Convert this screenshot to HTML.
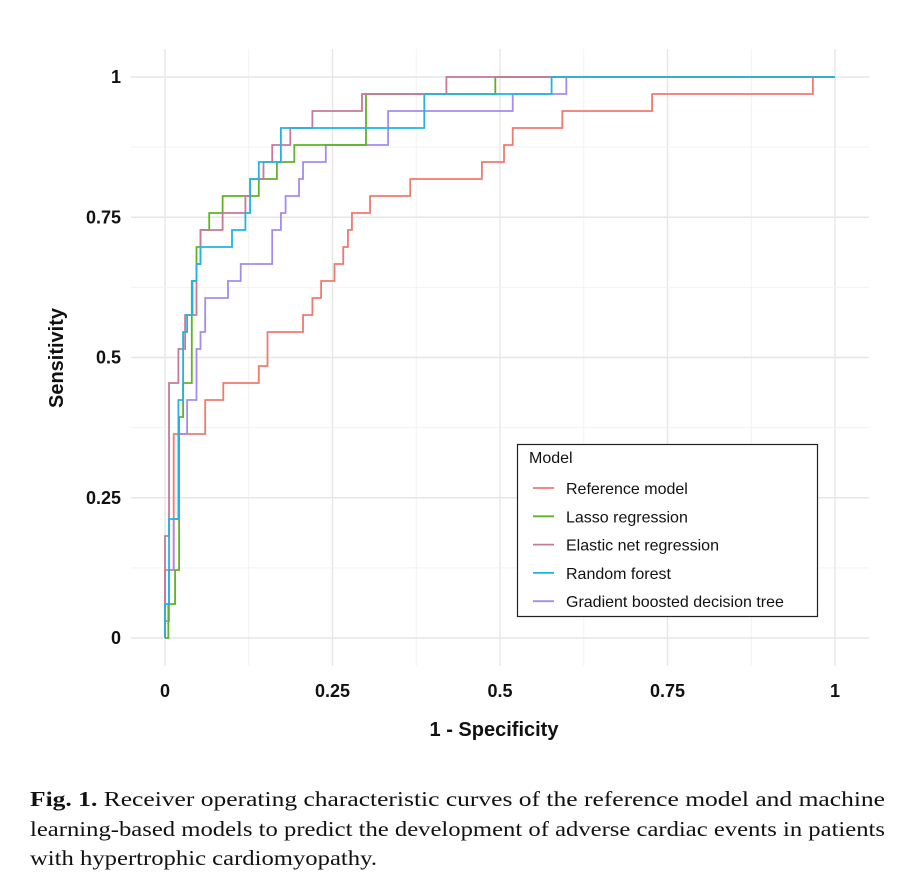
<!DOCTYPE html>
<html><head><meta charset="utf-8"><style>
body{margin:0;background:#fff;}
svg{display:block;}
text{font-family:"Liberation Sans",sans-serif;}
.tick{font-size:18px;font-weight:bold;fill:#111;}
.cap{font-family:"Liberation Serif",serif;font-size:21px;fill:#111;}
</style></head><body>
<svg id="chart" width="922" height="886" viewBox="0 0 922 886">
<g id="grid"></g>
<g id="series"></g>
<g id="axes"></g>
<text x="494" y="736" text-anchor="middle" class="tick" style="font-size:20px">1 - Specificity</text>
<text transform="translate(63,358) rotate(-90)" text-anchor="middle" class="tick" style="font-size:20px">Sensitivity</text>
<g>
<rect x="517.5" y="444.5" width="300" height="172" fill="#fff" stroke="#222" stroke-width="1.2"/>
<text x="529" y="463" style="font-size:16px" fill="#111">Model</text>
<g id="legend-items"></g>
</g>
<g>
<text x="30" y="806" class="cap" textLength="855" lengthAdjust="spacingAndGlyphs"><tspan font-weight="bold">Fig. 1.</tspan> Receiver operating characteristic curves of the reference model and machine</text>
<text x="30" y="836" class="cap" textLength="855" lengthAdjust="spacingAndGlyphs">learning-based models to predict the development of adverse cardiac events in patients</text>
<text x="30" y="865" class="cap" textLength="347" lengthAdjust="spacingAndGlyphs">with hypertrophic cardiomyopathy.</text>
</g>
</svg>
<script>
const totalPositives = 33;
const seriesNames = ["Reference model","Lasso regression","Elastic net regression","Random forest","Gradient boosted decision tree"];
const refFpr = [0,0.013,0.06,0.087,0.14,0.153,0.206,0.22,0.233,0.253,0.266,0.273,0.279,0.306,0.366,0.473,0.506,0.519,0.593,0.727,0.967];
const refTp  = [4,12,14,15,16,18,19,20,21,22,23,24,25,26,27,28,29,30,31,32,33];
const lassoFpr = [0.005,0.015,0.021,0.027,0.04,0.047,0.053,0.066,0.086,0.14,0.167,0.193,0.3,0.493];
const lassoTp  = [2,4,13,15,21,23,24,25,26,27,28,29,32,33];
const enetFpr = [0,0.006,0.02,0.03,0.047,0.053,0.086,0.12,0.127,0.147,0.16,0.187,0.22,0.294,0.42];
const enetTp  = [6,15,17,19,22,24,25,26,27,28,29,30,31,32,33];
const rfFpr = [0,0.006,0.02,0.027,0.033,0.041,0.047,0.053,0.1,0.12,0.127,0.14,0.173,0.387,0.577];
const rfTp  = [2,7,14,18,19,21,22,23,24,25,27,28,30,32,33];
const gbdtFpr = [0,0.006,0.013,0.02,0.033,0.047,0.053,0.06,0.094,0.113,0.16,0.173,0.18,0.2,0.206,0.24,0.333,0.519,0.599];
const gbdtTp  = [1,4,7,12,14,17,18,20,21,22,24,25,26,27,28,29,31,32,33];
const xTicks = [0,0.25,0.5,0.75,1];
const xTickLabels = ["0","0.25","0.5","0.75","1"];
const yTicks = [0,0.25,0.5,0.75,1];
const yTickLabels = ["0","0.25","0.5","0.75","1"];

const colors = ["#F07A6E","#5FB324","#C9779B","#22B4E2","#A48BF0"];
const X = v => 165 + v*670;
const Y = v => 638 - v*561;
const NS = "http://www.w3.org/2000/svg";
function mk(tag, attrs, parent){const e=document.createElementNS(NS,tag);for(const k in attrs)e.setAttribute(k,attrs[k]);parent.appendChild(e);return e;}

const grid = document.getElementById('grid');
for (let i=0;i<xTicks.length;i++){
  const l = mk('line',{x1:X(xTicks[i]),x2:X(xTicks[i]),y1:49,y2:666,stroke:'#e6e6e6','stroke-width':1.4},grid);
  
  
  if (i<xTicks.length-1){
    const m = mk('line',{x1:X((xTicks[i]+xTicks[i+1])/2),x2:X((xTicks[i]+xTicks[i+1])/2),y1:49,y2:666,stroke:'#f2f2f2','stroke-width':1},grid);
    
    
  }
}
for (let i=0;i<yTicks.length;i++){
  const l = mk('line',{x1:131,x2:869,y1:Y(yTicks[i]),y2:Y(yTicks[i]),stroke:'#e6e6e6','stroke-width':1.4},grid);
  
  
  if (i<yTicks.length-1){
    const m = mk('line',{x1:131,x2:869,y1:Y((yTicks[i]+yTicks[i+1])/2),y2:Y((yTicks[i]+yTicks[i+1])/2),stroke:'#f2f2f2','stroke-width':1},grid);
    
    
  }
}
const axes = document.getElementById('axes');
xTicks.forEach((v,i)=>{
  const t = mk('text',{x:X(v),y:697,'text-anchor':'middle',class:'tick'},axes);
  t.textContent = xTickLabels[i];
  
  
});
yTicks.forEach((v,i)=>{
  const t = mk('text',{x:121,y:Y(v)+6,'text-anchor':'end',class:'tick'},axes);
  t.textContent = yTickLabels[i];
  
  
});

const allFpr = [refFpr,lassoFpr,enetFpr,rfFpr,gbdtFpr];
const allTp = [refTp,lassoTp,enetTp,rfTp,gbdtTp];
const keys = ['reference-model','lasso-regression','elastic-net-regression','random-forest','gradient-boosted-tree'];
const sg = document.getElementById('series');
const order = [0,4,1,2,3];
order.forEach(s=>{
  let d = 'M'+X(0)+' '+Y(0);
  for (let i=0;i<allFpr[s].length;i++){
    d += ' H'+X(allFpr[s][i])+' V'+Y(allTp[s][i]/totalPositives);
  }
  d += ' H'+X(1);
  const p = mk('path',{d:d,fill:'none',stroke:colors[s],'stroke-width':1.8},sg);
  
  
});
const lg = document.getElementById('legend-items');
seriesNames.forEach((n,i)=>{
  const y = 488 + i*28.3;
  const l = mk('line',{x1:533,x2:554,y1:y,y2:y,stroke:colors[i],'stroke-width':1.8},lg);
  
  
  const t = mk('text',{x:566,y:y+6,'font-size':'16px',fill:'#111'},lg);
  t.textContent = n;
  
  
});
</script>
</body></html>
